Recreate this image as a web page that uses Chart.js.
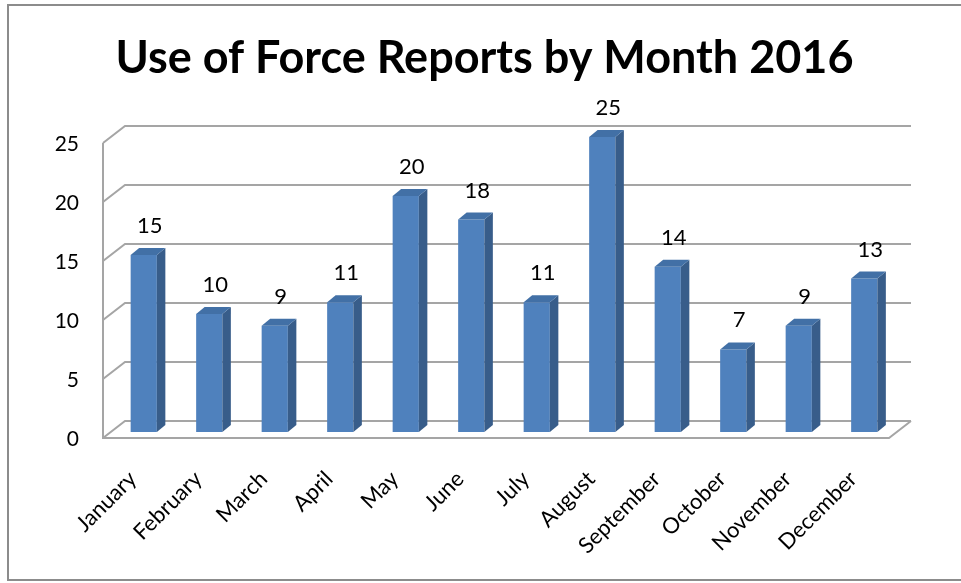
<!DOCTYPE html>
<html lang="en">
<head>
<meta charset="UTF-8">
<title>Use of Force Reports by Month 2016</title>
<style>
  body { margin: 0; background: #fff; }
  .wrap { position: relative; width: 961px; height: 583px; }
</style>
</head>
<body>
<div class="wrap">
  <canvas id="barChart"></canvas>
</div>
<script src="https://cdn.jsdelivr.net/npm/chart.js@4.4.1/dist/chart.umd.min.js"></script>
<script>
// data
var months = ['January', 'February', 'March', 'April', 'May', 'June', 'July',
              'August', 'September', 'October', 'November', 'December'];
var reports = [15, 10, 9, 11, 20, 18, 11, 25, 14, 7, 9, 13];
var yTicks = [0, 5, 10, 15, 20, 25];

var FONT = 'Lato, "Open Sans", sans-serif';
var gridColor = '#a5a5a5';

// fake 3d: walls, floor and the side/top of each bar
var threeD = {
  id: 'threeD',
  beforeDraw: function (chart) {
    var c = chart.ctx;
    c.save();
    c.fillStyle = '#fff';
    c.fillRect(0, 0, chart.width, chart.height);
    c.strokeStyle = '#8c8c8c';
    c.lineWidth = 2;
    c.strokeRect(8, 5, 1000, 575);
    c.restore();
  },
  beforeDatasetsDraw: function (chart) {
    var c = chart.ctx, a = chart.chartArea, y = chart.scales.y;
    var fl = a.left - 8, bl = a.left + 14, fr = a.right - 8, br = a.right + 14;
    c.save();
    c.strokeStyle = gridColor;
    c.lineWidth = 2;
    c.beginPath();
    yTicks.forEach(function (v) {
      var py = y.getPixelForValue(v);
      c.moveTo(fl, py + 6);
      c.lineTo(bl, py - 11);
      c.lineTo(br, py - 11);
    });
    var top = y.getPixelForValue(yTicks[yTicks.length - 1]);
    var zero = y.getPixelForValue(0);
    c.moveTo(fl, top + 6);
    c.lineTo(fl, zero + 6);
    c.lineTo(fr, zero + 6);
    c.lineTo(br, zero - 11);
    c.stroke();
    c.restore();
  },
  afterDatasetsDraw: function (chart) {
    var c = chart.ctx;
    var dx = 8.5, dy = 7;
    c.save();
    chart.getDatasetMeta(0).data.forEach(function (bar, i) {
      var p = bar.getProps(['x', 'y', 'base', 'width'], true);
      var l = p.x - p.width / 2, r = p.x + p.width / 2;
      c.fillStyle = '#385d8a';
      c.beginPath();
      c.moveTo(r, p.y);
      c.lineTo(r + dx, p.y - dy);
      c.lineTo(r + dx, p.base - dy);
      c.lineTo(r, p.base);
      c.closePath();
      c.fill();
      c.fillStyle = '#4270a6';
      c.beginPath();
      c.moveTo(l, p.y);
      c.lineTo(l + dx, p.y - dy);
      c.lineTo(r + dx, p.y - dy);
      c.lineTo(r, p.y);
      c.closePath();
      c.fill();
      // value label
      c.fillStyle = '#000';
      c.font = '22px ' + FONT;
      c.textAlign = 'center';
      c.textBaseline = 'alphabetic';
      c.fillText(String(reports[i]), p.x + 6, p.y - 22);
    });
    c.restore();
  }
};

var ctx = document.getElementById('barChart').getContext('2d');
var myChart = new Chart(ctx, {
  type: 'bar',
  data: {
    labels: months,
    datasets: [{
      label: 'Reports',
      data: reports,
      backgroundColor: '#4f81bd',
      borderWidth: 0,
      barPercentage: 0.4,
      categoryPercentage: 1
    }]
  },
  options: {
    responsive: true,
    maintainAspectRatio: false,
    animation: false,
    layout: { padding: { left: 8, right: 0, top: 0, bottom: 0 } },
    plugins: {
      legend: { display: false },
      tooltip: { enabled: false },
      title: {
        display: true,
        text: 'Use of Force Reports by Month 2016',
        color: '#000',
        font: { family: FONT, size: 45, weight: 'bold', lineHeight: 1.2 },
        padding: { top: 31, bottom: 52 }
      }
    },
    scales: {
      x: {
        grid: { display: false },
        border: { display: false },
        ticks: {
          color: '#000',
          font: { family: FONT, size: 22 },
          maxRotation: 45,
          minRotation: 45,
          padding: 26,
          labelOffset: -11
        },
        afterFit: function (scale) { scale.height = 151; }
      },
      y: {
        min: 0,
        max: 25,
        grid: { display: false },
        border: { display: false },
        ticks: {
          stepSize: 5,
          color: '#000',
          font: { family: FONT, size: 21 },
          padding: 24,
          labelOffset: 7
        },
        afterFit: function (scale) { scale.width = 103; }
      },
      // empty right gutter so the plot stops where the reference does
      y2: {
        position: 'right',
        grid: { display: false },
        border: { display: false },
        ticks: { display: false },
        afterFit: function (scale) { scale.width = 64; }
      }
    }
  },
  plugins: [threeD]
});
</script>
</body>
</html>
